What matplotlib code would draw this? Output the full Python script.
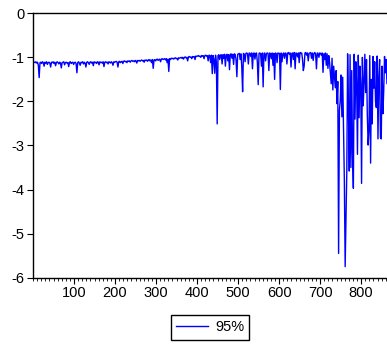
import numpy as np
import matplotlib.pyplot as plt
from matplotlib.ticker import MultipleLocator

plt.rcParams['font.family'] = ['Liberation Sans', 'DejaVu Sans']
plt.rcParams['axes.unicode_minus'] = False

# observation index runs 1, 3, 5, ... ; one value every second observation
obs_step = 2
series_label = '95%'

vals_001_099 = [
    -1.10, -1.11, -1.12, -1.10, -1.13, -1.11, -1.18, -1.46, -1.12, -1.11,
    -1.14, -1.10, -1.12, -1.20, -1.11, -1.13, -1.10, -1.16, -1.12, -1.11,
    -1.13, -1.22, -1.11, -1.12, -1.10, -1.14, -1.11, -1.19, -1.12, -1.10,
    -1.12, -1.15, -1.11, -1.13, -1.24, -1.12, -1.11, -1.10, -1.17, -1.12,
    -1.11, -1.13, -1.12, -1.21, -1.11, -1.10, -1.14, -1.12, -1.11, -1.16]
vals_101_199 = [
    -1.12, -1.11, -1.14, -1.35, -1.12, -1.10, -1.13, -1.18, -1.11, -1.12,
    -1.10, -1.15, -1.11, -1.13, -1.22, -1.11, -1.10, -1.12, -1.16, -1.11,
    -1.10, -1.13, -1.11, -1.19, -1.10, -1.12, -1.11, -1.14, -1.10, -1.11,
    -1.17, -1.10, -1.12, -1.11, -1.13, -1.10, -1.21, -1.11, -1.10, -1.12,
    -1.11, -1.15, -1.10, -1.11, -1.13, -1.10, -1.12, -1.18, -1.10, -1.11]
vals_201_299 = [
    -1.10, -1.09, -1.11, -1.22, -1.10, -1.09, -1.12, -1.10, -1.09, -1.14,
    -1.09, -1.08, -1.10, -1.09, -1.12, -1.08, -1.09, -1.08, -1.11, -1.08,
    -1.07, -1.09, -1.08, -1.10, -1.07, -1.08, -1.13, -1.07, -1.08, -1.07,
    -1.09, -1.07, -1.06, -1.08, -1.07, -1.11, -1.06, -1.07, -1.06, -1.09,
    -1.06, -1.05, -1.08, -1.06, -1.12, -1.05, -1.25, -1.06, -1.05, -1.08]
vals_301_399 = [
    -1.05, -1.04, -1.07, -1.05, -1.04, -1.10, -1.04, -1.03, -1.05, -1.04,
    -1.03, -1.06, -1.03, -1.12, -1.04, -1.32, -1.03, -1.05, -1.02, -1.03,
    -1.02, -1.04, -1.02, -1.01, -1.03, -1.02, -1.06, -1.01, -1.02, -1.01,
    -1.00, -1.02, -1.00, -1.04, -1.00, -0.99, -1.01, -1.00, -1.08, -0.99,
    -0.98, -1.00, -0.99, -1.03, -0.98, -0.99, -0.98, -1.05, -0.97, -0.98]
vals_401_499 = [
    -0.97, -0.96, -0.98, -0.97, -1.00, -0.96, -0.97, -0.96, -1.03, -0.96,
    -0.95, -0.97, -0.96, -1.08, -0.95, -0.96, -1.12, -0.95, -1.37, -0.96,
    -1.05, -1.36, -0.95, -1.10, -2.51, -0.96, -0.94, -1.05, -0.95, -0.94,
    -1.15, -0.94, -1.02, -0.93, -1.20, -0.95, -0.93, -1.08, -0.94, -1.28,
    -0.93, -0.92, -1.02, -0.93, -1.16, -0.92, -0.94, -1.06, -1.44, -0.93]
vals_501_599 = [
    -0.92, -0.91, -1.05, -0.92, -1.22, -1.78, -0.91, -0.93, -1.10, -0.91,
    -0.90, -0.92, -1.15, -0.90, -0.91, -0.98, -0.90, -1.26, -0.91, -0.90,
    -1.04, -0.91, -0.90, -1.12, -1.62, -0.91, -0.90, -0.93, -1.20, -0.90,
    -1.67, -0.91, -0.90, -1.08, -0.92, -0.90, -0.91, -1.30, -0.90, -0.92,
    -1.03, -0.90, -1.18, -0.91, -1.50, -0.90, -0.92, -1.12, -0.90, -0.91]
vals_601_699 = [
    -0.91, -1.73, -0.90, -1.10, -0.92, -0.90, -1.02, -0.90, -0.91, -1.15,
    -0.90, -0.89, -0.93, -0.90, -1.22, -0.91, -0.90, -1.05, -0.89, -1.26,
    -0.90, -0.91, -0.99, -0.90, -1.12, -0.89, -0.91, -0.90, -1.04, -1.30,
    -1.20, -0.90, -0.89, -0.95, -0.90, -1.08, -0.91, -0.90, -0.89, -1.02,
    -0.90, -1.07, -0.91, -0.89, -0.93, -1.26, -0.90, -0.91, -1.00, -0.90]
vals_701_799 = [
    -0.91, -0.95, -0.90, -1.34, -0.92, -1.05, -0.90, -1.18, -0.92, -1.25,
    -0.96, -1.12, -1.35, -1.60, -1.02, -1.74, -1.20, -1.45, -1.69, -1.30,
    -2.05, -1.55, -5.45, -2.20, -1.98, -1.40, -2.35, -1.45, -2.60, -3.77,
    -5.75, -4.60, -3.58, -0.92, -2.10, -3.58, -0.94, -3.50, -1.30, -3.20,
    -3.97, -0.93, -2.40, -1.10, -1.60, -3.20, -0.95, -2.37, -1.20, -1.60]
vals_801_865 = [
    -3.86, -1.00, -2.10, -1.57, -0.93, -1.80, -1.05, -2.30, -2.99, -2.67,
    -0.96, -3.40, -1.50, -2.51, -0.98, -1.70, -1.10, -2.00, -2.14, -0.97,
    -2.85, -1.45, -1.05, -2.82, -2.85, -1.20, -2.28, -1.76, -0.98, -1.35,
    -1.05, -1.60, -1.15]

values = np.array(vals_001_099 + vals_101_199 + vals_201_299 + vals_301_399
                  + vals_401_499 + vals_501_599 + vals_601_699
                  + vals_701_799 + vals_801_865)
obs = np.arange(1, obs_step * len(values), obs_step)

fig = plt.figure(figsize=(3.87, 3.46), dpi=100)
ax = fig.add_axes([0.0853, 0.1974, 0.9147, 0.7642])

ax.plot(obs, values, color='#0000ff', linewidth=1.0, label=series_label)

ax.set_xlim(0, 863)
ax.set_ylim(-6, 0)
ax.xaxis.set_minor_locator(MultipleLocator(10))
ax.yaxis.set_major_locator(MultipleLocator(1))
ax.set_xticks([100, 200, 300, 400, 500, 600, 700, 800])

ax.spines['right'].set_visible(False)
for side in ['left', 'bottom', 'top']:
    ax.spines[side].set_linewidth(1.0)

ax.tick_params(axis='both', which='major', direction='out', length=4,
               width=0.8, labelsize=10.5, pad=2)
ax.tick_params(axis='x', which='minor', direction='out', length=2, width=0.6)
ax.tick_params(axis='y', which='minor', left=False)

fig.legend(loc='center', bbox_to_anchor=(0.5426, 0.0535), fontsize=10.5,
           frameon=True, fancybox=False, edgecolor='black', framealpha=1,
           handlelength=2.2, borderpad=0.35, handletextpad=0.5)

fig.savefig('out.png', dpi=100)
